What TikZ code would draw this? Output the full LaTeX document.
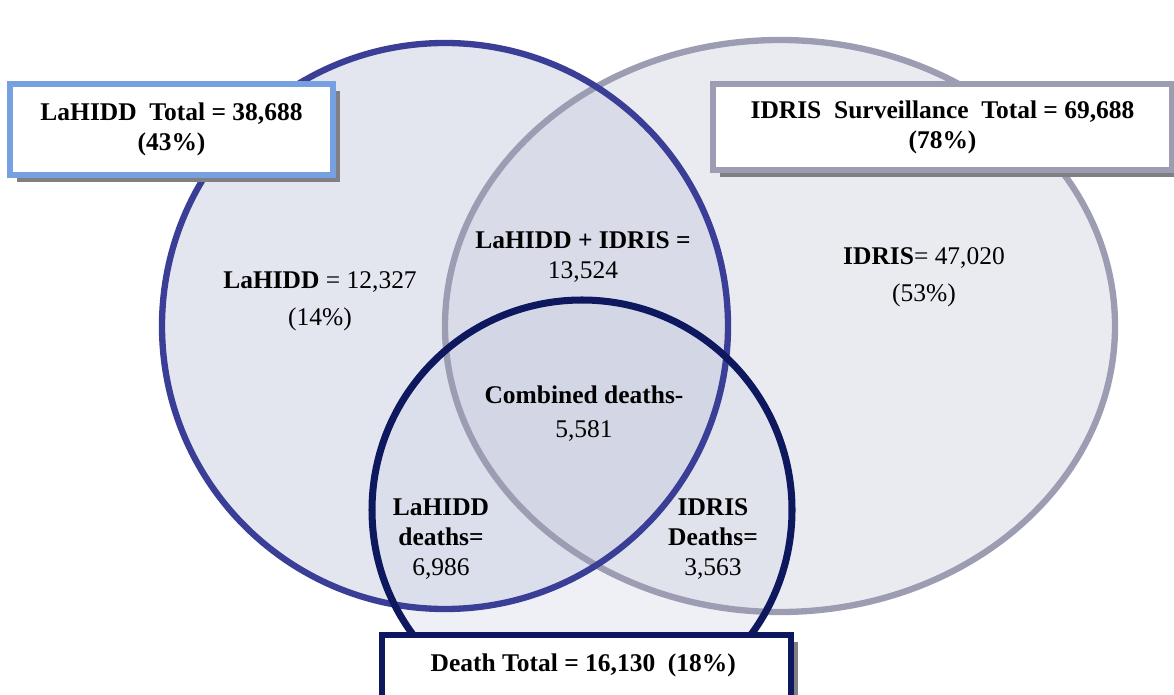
\documentclass[tikz,border=0pt]{standalone}
\usepackage{fontspec}
\setmainfont{Liberation Serif}
\usetikzlibrary{shadows}
\definecolor{lahiddblue}{RGB}{58, 62, 150}
\definecolor{idrisgray}{RGB}{156, 157, 179}
\definecolor{deathnavy}{RGB}{14, 24, 94}
\definecolor{boxblue}{RGB}{118, 160, 224}
\definecolor{shadowgray}{RGB}{128, 128, 132}
\definecolor{lahiddfill}{RGB}{200, 206, 224}
\definecolor{idrisfill}{RGB}{214, 216, 226}
\definecolor{deathfill}{RGB}{200, 205, 226}

\begin{document}
\begin{tikzpicture}[
  every node/.style={font=\fontsize{14.5}{17}\selectfont, align=center},
  totalbox/.style={fill=white, line width=3pt, inner sep=0pt,
    drop shadow={shadow xshift=0.14cm, shadow yshift=-0.14cm, fill=shadowgray, opacity=1}},
]
  \useasboundingbox (0, 0) rectangle (23.48, 13.88);

  % Fills
  \fill[idrisfill, fill opacity=0.5] (15.6, 7.36) ellipse [x radius=6.7cm, y radius=5.72cm];
  \fill[lahiddfill, fill opacity=0.5] (8.9, 7.36) circle [radius=5.66cm];
  \fill[deathfill, fill opacity=0.3] (11.64, 3.68) circle [radius=4.2cm];

  % Outlines
  \draw[idrisgray, line width=3.6pt] (15.6, 7.36) ellipse [x radius=6.7cm, y radius=5.72cm];
  \draw[lahiddblue, line width=3.6pt] (8.9, 7.36) circle [radius=5.66cm];
  \draw[deathnavy, line width=4pt] (11.64, 3.68) circle [radius=4.2cm];

  % Totals
  \node[totalbox, draw=boxblue, minimum width=6.46cm, minimum height=1.82cm] (lahiddtotal) at (3.43, 11.29) {
    \textbf{LaHIDD\ \ Total = 38,688}\\
    \textbf{(43\%)}
  };
  \node[totalbox, draw=idrisgray, minimum width=9.18cm, minimum height=1.72cm] (idristotal) at (18.85, 11.34) {
    \textbf{IDRIS\ \ Surveillance\ \ Total = 69,688}\\
    \textbf{(78\%)}
  };
  \node[totalbox, draw=deathnavy, minimum width=8.18cm, minimum height=1.30cm, text depth=0.2cm] (deathtotal) at (11.73, 0.53) {
    \textbf{Death Total = 16,130\ \ (18\%)}
  };

  % Region counts
  \node (lahiddonly) at (6.40, 7.86) {\textbf{LaHIDD} = 12,327\\[4pt] (14\%)};
  \node (idrisonly) at (18.48, 8.34) {\textbf{IDRIS}= 47,020\\[4pt] (53\%)};
  \node (both) at (11.66, 8.74) {\textbf{LaHIDD + IDRIS =}\\ 13,524};
  \node (combined) at (11.68, 5.61) {\textbf{Combined deaths-}\\[2pt] 5,581};
  \node (lahidddeaths) at (8.82, 3.10) {\textbf{LaHIDD}\\ \textbf{deaths=}\\ 6,986};
  \node (idrisdeaths) at (14.26, 3.10) {\textbf{IDRIS}\\ \textbf{Deaths=}\\ 3,563};
\end{tikzpicture}
\end{document}
